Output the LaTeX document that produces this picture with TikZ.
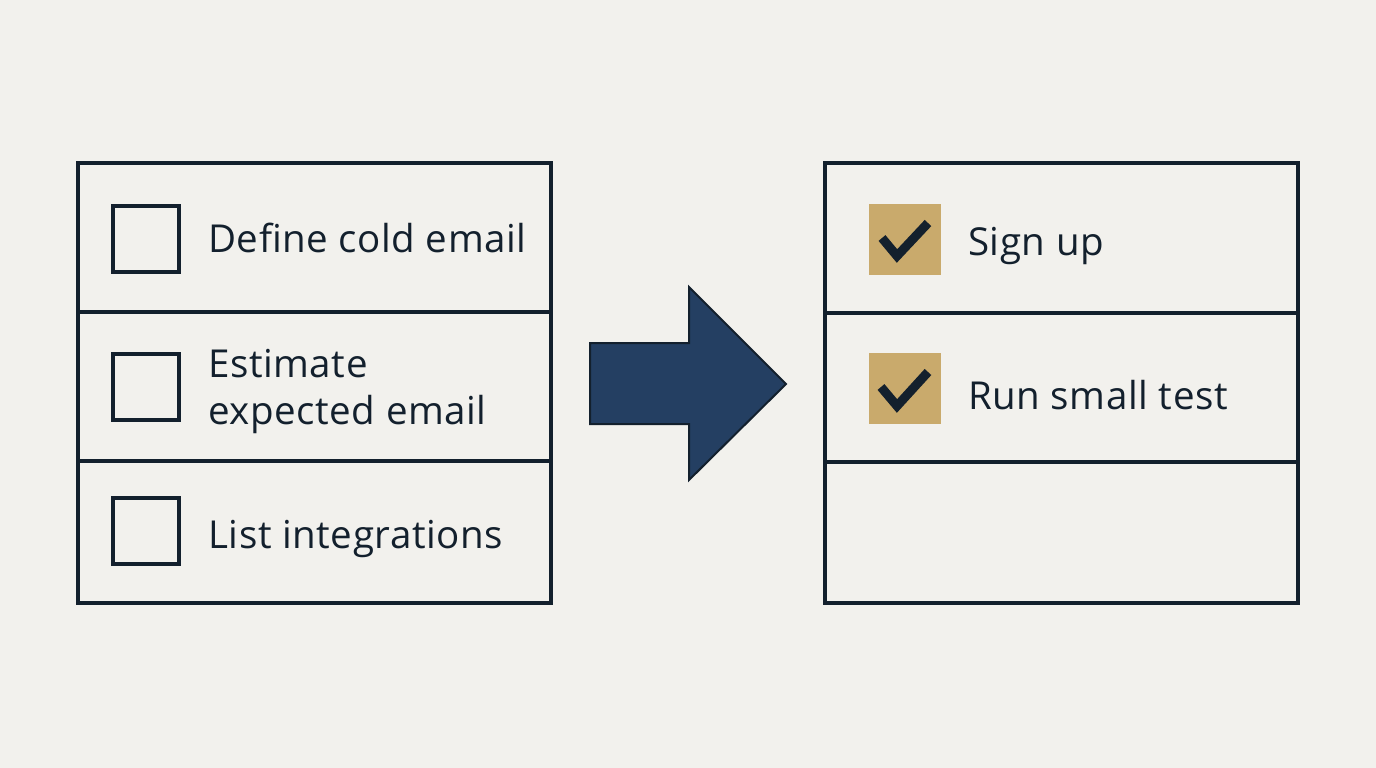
\documentclass[tikz,border=0pt]{standalone}
\usepackage{fontspec}
\setmainfont{Open Sans}[LetterSpace=1.5]
\definecolor{bgpaper}{HTML}{F2F1ED}
\definecolor{inkline}{HTML}{13202D}
\definecolor{goldtick}{HTML}{C9AA6C}
\definecolor{navyarrow}{HTML}{243F62}

\begin{document}
\begin{tikzpicture}[x=1pt, y=-1pt,
    every node/.style={font=\fontsize{38.5}{47}\selectfont, text=inkline},
    row/.style={draw=inkline, line width=3.2pt, minimum width=473pt, inner sep=0pt, outer sep=0pt, anchor=north west},
    openbox/.style={draw=inkline, line width=3.4pt, minimum size=66pt, inner sep=0pt},
    donebox/.style={fill=goldtick, minimum width=72pt, minimum height=71pt, inner sep=0pt},
    item/.style={inner sep=0pt, align=left},
    tick/.style={draw=inkline, line width=9pt, line cap=butt, line join=miter}
]

% background and margins
\fill[bgpaper] (0,0) rectangle (1376,768);
\useasboundingbox (0,0) rectangle (1376,768);

% left list: open tasks
\node[row, minimum height=149pt] (l1) at (78,163) {};
\node[row, minimum height=149pt] (l2) at (78,312) {};
\node[row, minimum height=142pt] (l3) at (78,461) {};

\node[openbox] (b1) at (146,239) {};
\node[openbox] (b2) at (146,387) {};
\node[openbox] (b3) at (146,531) {};

\node[item, anchor=base west] (t1) at (208,252) {Define cold email};
\node[item, anchor=west] (t2) at (208,391) {Estimate\\expected email};
\node[item, anchor=base west] (t3) at (208,548) {List integrations};

% block arrow
\draw[fill=navyarrow, draw=inkline, line width=2pt, line join=miter]
    (590,343) -- (689,343) -- (689,287) -- (786,384) -- (689,480)
    -- (689,424) -- (590,424) -- cycle;

% right list: done tasks
\node[row, minimum height=150pt] (r1) at (825,163) {};
\node[row, minimum height=149pt] (r2) at (825,313) {};
\node[row, minimum height=141pt] (r3) at (825,462) {};

\node[donebox] (d1) at (905,239) {};
\node[donebox] (d2) at (905,388) {};

\draw[tick] (882,238) -- (897,256) -- (928,223);
\draw[tick] (881,387) -- (897,406) -- (928,372);

\node[item, anchor=base west] (s1) at (968,255) {Sign up};
\node[item, anchor=base west] (s2) at (968,409) {Run small test};

\end{tikzpicture}
\end{document}
